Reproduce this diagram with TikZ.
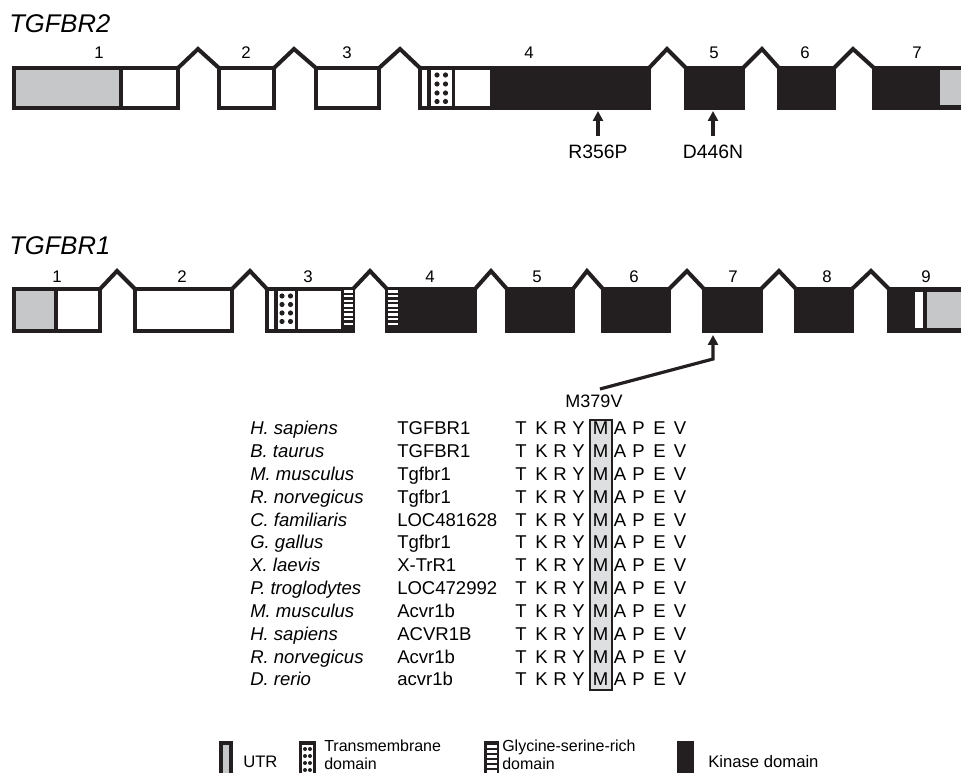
\documentclass[tikz,border=0pt]{standalone}
\usepackage{fontspec}
\setmainfont{Liberation Sans}
\usetikzlibrary{arrows.meta}
\definecolor{ink}{HTML}{231F20}
\definecolor{utrgray}{HTML}{C6C7C9}
\definecolor{mgray}{HTML}{DEDFE0}
\newcommand\glystrip[4]{% x1 x2 y1 y2
  \fill[ink] (#1,#3) rectangle (#2,#4);
  \pgfmathsetmacro\gA{#1+2.5}\pgfmathsetmacro\gB{#2-1.5}
  \foreach \k in {0,...,7}{\fill[white] (\gA,{#3+3+4.6*\k}) rectangle (\gB,{#3+5.3+4.6*\k});}
}
\begin{document}
\begin{tikzpicture}[x=0.75pt,y=-0.75pt,
  ex/.style={draw=ink,line width=3pt,line join=miter},
  intr/.style={draw=ink,line width=3pt,line join=miter},
  tmb/.style={draw=ink,line width=2.4pt,fill=white},
  num/.style={font=\fontsize{12.6}{14}\selectfont,anchor=base,inner sep=0pt},
  title/.style={font=\fontsize{19.2}{22}\selectfont\itshape,anchor=base west,inner sep=0pt},
  mut/.style={font=\fontsize{14.5}{16}\selectfont,anchor=base,inner sep=0pt},
  arr/.style={draw=ink,line width=2.4pt,-{Triangle[length=7.5pt,width=7.5pt]}},
  sp/.style={font=\fontsize{13.9}{16}\selectfont\itshape,anchor=base west,inner sep=0pt},
  gn/.style={font=\fontsize{13.9}{16}\selectfont,anchor=base west,inner sep=0pt},
  aa/.style={font=\fontsize{13.9}{16}\selectfont,anchor=base,inner sep=0pt},
  leg/.style={font=\fontsize{12.5}{14}\selectfont,anchor=base west,inner sep=0pt},
  leg2/.style={font=\fontsize{12}{14}\selectfont,anchor=base west,inner sep=0pt}]
\useasboundingbox (0,0) rectangle (961,773);
\clip (0,0) rectangle (961,773);
\fill[white] (0,0) rectangle (961,773);

% ================= TGFBR2 =================
\node[title] (t2) at (9,33) {TGFBR2};
% exon 1
\fill[utrgray] (14,68) rectangle (121,108);
\draw[ex] (14,68) rectangle (178,108);
\draw[ex] (121,68) -- (121,108);
\draw[intr] (178,68) -- (198,49) -- (219,68);
% exon 2
\draw[ex,fill=white] (219,68) rectangle (274,108);
\draw[intr] (274,68) -- (294,49) -- (316,68);
% exon 3
\draw[ex,fill=white] (316,68) rectangle (379,108);
\draw[intr] (379,68) -- (400,49) -- (420,68);
% exon 4
\fill[ink] (490,68) rectangle (649,108);
\draw[ex] (420,68) rectangle (649,108);
\draw[tmb] (429,68) rectangle (453.5,108);
\foreach \dx in {437,445.5}{\foreach \dy in {75,84,93,101.5}{\fill[ink] (\dx,\dy) circle (2.6);}}
\draw[intr] (649,68) -- (667,49) -- (686,68);
% exon 5
\draw[ex,fill=ink] (686,68) rectangle (743,108);
\draw[intr] (743,68) -- (762,49) -- (779,68);
% exon 6
\draw[ex,fill=ink] (779,68) rectangle (834,108);
\draw[intr] (834,68) -- (853,49) -- (874,68);
% exon 7
\draw[ex,fill=ink] (874,68) rectangle (990,108);
\fill[utrgray] (940,70.5) rectangle (990,105.5);
% numbers
\foreach \X/\N in {99/1,246/2,347/3,529/4,714/5,805/6,917/7}{\node[num] (a\N) at (\X,59) {\N};}
% mutations
\node[mut] (r356) at (598,159) {R356P};
\node[mut] (d446) at (713,159) {D446N};
\coordinate (r356s) at (598,136); \coordinate (r356t) at (598,111);
\coordinate (d446s) at (713,136); \coordinate (d446t) at (713,111);
\draw[arr] (r356s) -- (r356t);
\draw[arr] (d446s) -- (d446t);

% ================= TGFBR1 =================
\node[title] (t1) at (9,255) {TGFBR1};
% exon 1
\fill[utrgray] (14,289) rectangle (56,331);
\draw[ex] (14,289) rectangle (100,331);
\draw[ex] (56,289) -- (56,331);
\draw[intr] (100,289) -- (117,271) -- (135,289);
% exon 2
\draw[ex,fill=white] (135,289) rectangle (232,331);
\draw[intr] (232,289) -- (250,271) -- (267,289);
% exon 3
\draw[ex,fill=white] (267,289) rectangle (353,331);
\draw[tmb] (276,289) rectangle (296.5,331);
\foreach \dx in {282,290.5}{\foreach \dy in {296,304.5,313,321.5}{\fill[ink] (\dx,\dy) circle (2.6);}}
\glystrip{341}{354.5}{287.5}{332.5}
\draw[intr] (353,289) -- (370,271) -- (387,289);
% exon 4
\draw[ex,fill=ink] (387,289) rectangle (475,331);
\glystrip{385.5}{399}{287.5}{332.5}
\draw[intr] (475,289) -- (491,271) -- (507,289);
% exons 5-8
\draw[ex,fill=ink] (507,289) rectangle (573,331);
\draw[intr] (573,289) -- (587,271) -- (603,289);
\draw[ex,fill=ink] (603,289) rectangle (669,331);
\draw[intr] (669,289) -- (687,271) -- (704,289);
\draw[ex,fill=ink] (704,289) rectangle (761,331);
\draw[intr] (761,289) -- (779,271) -- (796,289);
\draw[ex,fill=ink] (796,289) rectangle (852,331);
\draw[intr] (852,289) -- (871,271) -- (889,289);
% exon 9
\draw[ex,fill=ink] (889,289) rectangle (990,331);
\fill[white] (915,292) rectangle (922.5,328.5);
\fill[utrgray] (926.5,292) rectangle (990,328.5);
% numbers
\foreach \X/\N in {57/1,182/2,308/3,430/4,537/5,634/6,733/7,827/8,926/9}{\node[num] (b\N) at (\X,283) {\N};}
% mutation M379V
\node[font=\fontsize{13.5}{15}\selectfont,anchor=base,inner sep=0pt] (m379) at (594,408) {M379V};
\coordinate (m379s) at (600,389); \coordinate (m379k) at (713,359); \coordinate (m379t) at (713,335);
\draw[arr] (m379s) -- (m379k) -- (m379t);

% ================= alignment =================
\draw[draw=ink,line width=1.1pt,fill=mgray] (590,420) rectangle (612,690);
\foreach \S/\G [count=\i from 0] in {H. sapiens/TGFBR1,B. taurus/TGFBR1,M. musculus/Tgfbr1,R. norvegicus/Tgfbr1,C. familiaris/LOC481628,G. gallus/Tgfbr1,X. laevis/X-TrR1,P. troglodytes/LOC472992,M. musculus/Acvr1b,H. sapiens/ACVR1B,R. norvegicus/Acvr1b,D. rerio/acvr1b}{
  \pgfmathsetmacro\yb{435+22.8*\i}
  \node[sp] (sp\i) at (250,\yb) {\S};
  \node[gn] (gn\i) at (397,\yb) {\G};
  \foreach \L/\X in {T/521,K/541.5,R/560,Y/578.5,M/600.5,A/620,P/638.5,E/659.5,V/680}{
    \node[aa] (s\i\L) at (\X,\yb) {\L};}
}

% ================= legend =================
\draw[draw=ink,line width=2.4pt,fill=utrgray] (221,743) rectangle (231,785);
\node[leg] (lutr) at (243,767) {UTR};
\draw[tmb] (300.5,743) rectangle (314.5,785);
\foreach \dx in {305,310}{\foreach \dy in {749,756,763,770}{\fill[ink] (\dx,\dy) circle (2);}}
\node[leg2] (ltm1) at (324,751) {Transmembrane};
\node[leg2] (ltm2) at (324,769) {domain};
\fill[ink] (484,741) rectangle (499,785);
\foreach \k in {0,...,5}{\fill[white] (486.5,{745+5*\k}) rectangle (496.5,{747.5+5*\k});}
\node[leg2] (lgs1) at (502,751) {Glycine-serine-rich};
\node[leg2] (lgs2) at (502,769) {domain};
\fill[ink] (677,741) rectangle (694,785);
\node[leg] (lkin) at (708,767) {Kinase domain};
\end{tikzpicture}
\end{document}
